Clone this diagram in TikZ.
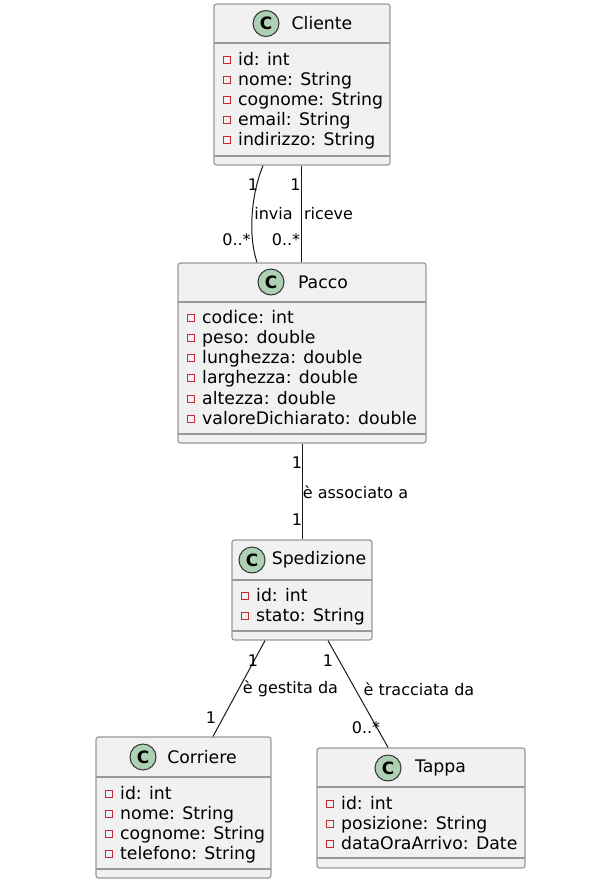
\documentclass[tikz,border=0pt]{standalone}
\usepackage{fontspec}
\setmainfont{DejaVu Sans}
\usepackage{tikz}
\usetikzlibrary{calc,positioning}

\definecolor{boxfill}{HTML}{F1F1F1}
\definecolor{boxline}{HTML}{999999}
\definecolor{spot}{HTML}{ADD1B2}
\definecolor{privred}{HTML}{C82930}

\tikzset{
  classbox/.style={draw=boxline, fill=boxfill, line width=1.2pt, rounded corners=2.5pt, inner sep=0pt},
  spotc/.style={circle, draw=black!80, fill=spot, line width=1pt, minimum size=26pt, inner sep=0pt,
    font=\fontsize{17}{17}\selectfont\bfseries},
  cname/.style={font=\fontsize{17.3}{20}\selectfont, inner sep=0pt},
  attr/.style={anchor=west, font=\fontsize{17.3}{20}\selectfont, inner sep=0pt, text height=13pt, text depth=4pt},
  priv/.style={draw=privred, line width=0.9pt, minimum size=7pt, inner sep=0pt},
  sep/.style={draw=boxline, line width=1.2pt},
  assoc/.style={draw=black!90, line width=1pt},
  lbl/.style={font=\fontsize{16}{18}\selectfont, inner sep=0pt}
}

% one attribute line: left edge, row y, name, text
\newcommand{\attrrow}[4]{%
  \node[priv] (#3m) at (#1+13,#2+1) {};
  \node[attr] (#3) at (#1+24,#2+1.5) {#4};
}

\begin{document}
\begin{tikzpicture}[x=1pt,y=-1pt]
  \useasboundingbox (0,0) rectangle (610,894);

  % Cliente
  \node[classbox, minimum width=176pt, minimum height=161pt] (cliente) at (302,84.5) {};
  \node[spotc] (clientec) at (266,23.5) {C};
  \node[cname] (clienten) at (322,23.5) {Cliente};
  \draw[sep] (214,43) -- (390,43) (214,156) -- (390,156);
  \attrrow{214}{59}{cli1}{id: int}
  \attrrow{214}{79}{cli2}{nome: String}
  \attrrow{214}{99}{cli3}{cognome: String}
  \attrrow{214}{119}{cli4}{email: String}
  \attrrow{214}{139}{cli5}{indirizzo: String}

  % Pacco
  \node[classbox, minimum width=248pt, minimum height=180pt] (pacco) at (302,353) {};
  \node[spotc] (paccoc) at (271,282) {C};
  \node[cname] (paccon) at (323,282) {Pacco};
  \draw[sep] (178,302) -- (426,302) (178,434) -- (426,434);
  \attrrow{178}{317}{pac1}{codice: int}
  \attrrow{178}{337}{pac2}{peso: double}
  \attrrow{178}{357}{pac3}{lunghezza: double}
  \attrrow{178}{377}{pac4}{larghezza: double}
  \attrrow{178}{398}{pac5}{altezza: double}
  \attrrow{178}{418}{pac6}{valoreDichiarato: double}

  % Spedizione
  \node[classbox, minimum width=140pt, minimum height=100pt] (spedizione) at (302,590) {};
  \node[spotc] (spedizionec) at (252,560) {C};
  \node[cname] (spedizionen) at (319,560) {Spedizione};
  \draw[sep] (232,580) -- (372,580) (232,631) -- (372,631);
  \attrrow{232}{595}{spe1}{id: int}
  \attrrow{232}{615}{spe2}{stato: String}

  % Corriere
  \node[classbox, minimum width=175pt, minimum height=141pt] (corriere) at (183.5,807.5) {};
  \node[spotc] (corrierec) at (143,757) {C};
  \node[cname] (corrieren) at (202,757) {Corriere};
  \draw[sep] (96,777) -- (271,777) (96,869) -- (271,869);
  \attrrow{96}{793}{cor1}{id: int}
  \attrrow{96}{813}{cor2}{nome: String}
  \attrrow{96}{833}{cor3}{cognome: String}
  \attrrow{96}{853}{cor4}{telefono: String}

  % Tappa
  \node[classbox, minimum width=208pt, minimum height=120pt] (tappa) at (421,808) {};
  \node[spotc] (tappac) at (388,768) {C};
  \node[cname] (tappan) at (440.5,768) {Tappa};
  \draw[sep] (317,787) -- (525,787) (317,858) -- (525,858);
  \attrrow{317}{803}{tap1}{id: int}
  \attrrow{317}{823}{tap2}{posizione: String}
  \attrrow{317}{843}{tap3}{dataOraArrivo: Date}

  % associations
  \draw[assoc] ([xshift=-39pt]cliente.south) .. controls (251,195) and (248,235) .. ([xshift=-45pt]pacco.north);
  \draw[assoc] ([xshift=-1pt]cliente.south) -- ([xshift=-1pt]pacco.north);
  \draw[assoc] (pacco.south) -- (spedizione.south |- spedizione.north);
  \draw[assoc] ([xshift=-37pt]spedizione.south) -- ([xshift=29.5pt]corriere.north);
  \draw[assoc] ([xshift=26pt]spedizione.south) -- ([xshift=-33pt]tappa.north);

  % labels
  \node[lbl] (inv1) at (253,185) {1};
  \node[lbl] (inv2) at (236.5,240) {0..*};
  \node[lbl] (inv) at (273.5,214) {invia};
  \node[lbl] (ric1) at (295.5,185) {1};
  \node[lbl] (ric2) at (286,240) {0..*};
  \node[lbl] (ric) at (328.5,214) {riceve};
  \node[lbl] (ass1) at (297,463) {1};
  \node[lbl] (ass2) at (297,520) {1};
  \node[lbl] (ass) at (355.5,492) {è associato a};
  \node[lbl] (ges1) at (253,661) {1};
  \node[lbl] (ges2) at (211,718) {1};
  \node[lbl] (ges) at (290.5,689) {è gestita da};
  \node[lbl] (tra1) at (328,661) {1};
  \node[lbl] (tra2) at (366,728) {0..*};
  \node[lbl] (tra) at (419,689) {è tracciata da};
\end{tikzpicture}
\end{document}
